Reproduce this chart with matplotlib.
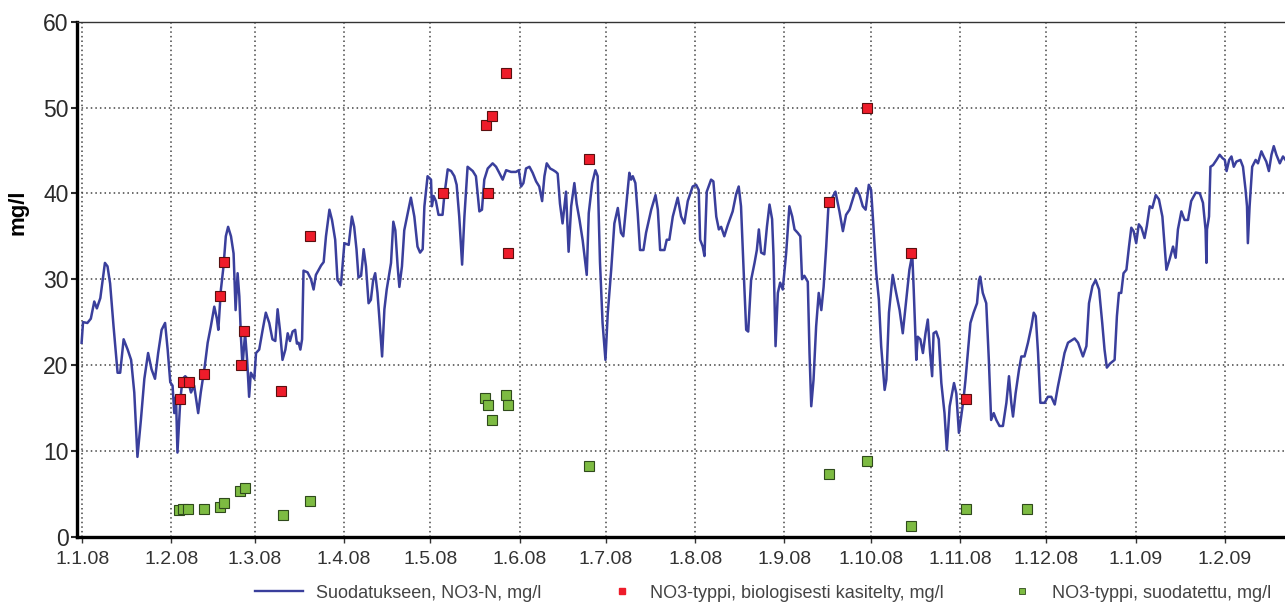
import numpy as np
import matplotlib
matplotlib.use('Agg')
import matplotlib.pyplot as plt
import matplotlib.dates as mdates
from matplotlib.ticker import FuncFormatter, MultipleLocator
from matplotlib.lines import Line2D

# days counted from 1.1.2008
inflow_day = [
    -0.2, 0.3, 1.8, 3.0, 4.2, 5.1, 6.3, 7.9, 8.8, 9.7, 10.9, 12.3, 13.2, 14.4, 15.8, 17.0,
    18.1, 19.2, 20.4, 21.6, 22.9, 24.1, 25.3, 26.4, 27.6, 28.8, 29.7, 30.6, 31.4, 32.0,
    32.6, 33.1, 34.1, 34.9, 35.8, 36.6, 37.8, 38.9, 40.3, 41.2, 42.6, 43.6, 44.7, 45.9,
    46.8, 47.3, 48.2, 49.1, 49.9, 50.7, 51.7, 52.6, 53.3, 54.0, 54.6, 55.2, 55.7, 56.6,
    57.3, 58.0, 58.6, 59.8, 60.4, 61.5, 62.7, 63.8, 65.0, 66.1, 67.1, 67.9, 68.7, 69.6,
    70.6, 71.4, 72.2, 73.1, 74.0, 74.6, 75.2, 75.8, 76.4, 76.9, 78.3, 79.5, 80.4, 81.2,
    83.0, 83.9, 84.7, 85.9, 86.8, 87.9, 88.7, 89.9, 91.1, 92.6, 93.7, 94.5, 95.3, 96.0,
    96.9, 97.8, 98.6, 99.5, 100.3, 101.1, 101.8, 102.6, 103.2, 104.2, 105.0, 105.8, 107.3,
    108.1, 108.8, 109.6, 110.2, 111.1, 111.9, 113.1, 114.2, 115.4, 116.5, 117.4, 118.3,
    118.9, 120.0, 121.2, 121.5, 122.1, 122.9, 123.8, 125.2, 125.8, 127.0, 128.2, 129.3,
    130.1, 131.0, 132.0, 132.8, 133.9, 135.7, 136.8, 138.0, 138.9, 139.7, 140.9, 142.6,
    143.8, 144.9, 146.1, 147.3, 149.0, 150.7, 151.7, 152.5, 153.3, 154.2, 155.4, 156.5,
    157.7, 158.8, 159.8, 160.6, 161.4, 162.6, 163.7, 164.6, 165.2, 166.0, 166.9, 168.1,
    169.0, 169.9, 171.0, 171.8, 172.8, 173.9, 175.3, 176.0, 177.2, 178.3, 179.1, 179.9,
    180.8, 181.8, 182.6, 183.8, 184.9, 186.1, 187.2, 188.0, 189.0, 190.1, 190.7, 191.3,
    192.2, 193.0, 193.8, 195.0, 195.9, 197.7, 199.2, 200.0, 200.8, 202.3, 203.1, 204.0,
    205.2, 206.9, 208.1, 209.2, 210.4, 212.1, 213.3, 214.2, 214.7, 215.6, 216.2, 217.0,
    218.5, 219.3, 220.3, 221.2, 222.0, 223.1, 224.3, 226.0, 227.2, 228.1, 228.9, 229.8,
    230.7, 231.4, 232.4, 233.6, 234.4, 235.1, 235.9, 237.0, 237.9, 238.8, 239.7, 240.2,
    240.9, 241.7, 242.5, 243.4, 244.6, 245.7, 246.7, 247.5, 248.6, 249.5, 250.1, 250.9,
    252.1, 252.7, 253.3, 254.1, 255.0, 255.9, 256.8, 257.6, 258.5, 259.4, 260.6, 261.7,
    263.1, 264.3, 265.4, 266.6, 267.7, 268.9, 270.1, 271.2, 272.2, 273.3, 274.1, 274.9,
    275.9, 276.8, 277.6, 278.8, 279.4, 280.3, 281.6, 282.8, 284.0, 285.1, 286.3, 287.4,
    288.4, 288.9, 289.8, 290.3, 291.2, 292.1, 293.0, 293.8, 294.6, 295.3, 295.8, 296.7,
    297.6, 298.5, 299.6, 300.4, 301.4, 302.9, 303.7, 304.6, 305.4, 306.2, 306.9, 307.7,
    308.6, 309.7, 310.9, 311.6, 312.0, 312.9, 314.1, 315.0, 315.8, 316.7, 317.6, 318.7,
    319.9, 321.1, 322.0, 322.8, 323.4, 324.3, 325.5, 326.3, 327.4, 328.6, 329.8, 330.6,
    331.3, 332.1, 332.9, 334.4, 335.5, 336.7, 337.9, 339.0, 340.2, 341.3, 342.5, 344.8,
    346.0, 347.7, 348.9, 349.8, 351.0, 352.1, 353.3, 354.4, 355.2, 356.0, 357.2, 358.7,
    359.5, 360.2, 361.0, 361.8, 362.8, 363.7, 364.5, 365.3, 366.2, 367.1, 368.0, 369.1,
    369.9, 370.9, 371.8, 373.0, 374.1, 375.3, 376.7, 377.8, 379.0, 379.9, 380.7, 381.9,
    383.0, 384.2, 385.3, 386.9, 388.3, 389.4, 390.3, 390.6, 390.8, 391.5, 392.0, 392.9,
    394.1, 395.2, 396.2, 397.0, 397.6, 398.5, 399.3, 400.1, 401.0, 402.4, 403.3, 404.2,
    404.7, 405.0, 405.6, 406.5, 407.7, 408.5, 409.7, 410.5, 411.4, 412.3, 413.2, 414.0,
    414.9, 416.1, 417.2, 418.5]
inflow_no3 = [
    22.6, 25.0, 24.9, 25.4, 27.4, 26.6, 27.8, 31.9, 31.5, 29.5, 24.5, 19.1, 19.1, 23.0, 21.8, 20.6,
    16.8, 9.3, 13.6, 18.4, 21.4, 19.5, 18.4, 21.4, 24.1, 24.9, 21.8, 18.0, 17.6, 14.4,
    16.3, 9.8, 16.0, 18.4, 18.7, 18.4, 16.8, 17.6, 14.4, 16.8, 19.9, 22.6, 24.5, 26.8,
    25.4, 24.1, 28.8, 31.5, 35.0, 36.1, 35.0, 33.0, 26.4, 30.7, 28.0, 23.0, 19.9, 23.7,
    20.6, 16.3, 19.1, 18.4, 21.4, 21.8, 24.1, 26.1, 24.9, 23.0, 22.8, 26.5, 24.1, 20.6,
    21.8, 23.7, 22.8, 23.9, 24.1, 22.5, 22.6, 21.8, 23.0, 31.0, 30.8, 30.0, 28.8, 30.5,
    31.6, 32.0, 35.0, 38.1, 36.9, 34.6, 29.9, 29.3, 34.2, 34.0, 37.3, 36.1, 33.5, 30.2,
    30.4, 33.5, 31.5, 27.2, 27.6, 29.9, 30.7, 28.4, 25.7, 21.0, 26.5, 28.8, 31.9,
    36.7, 35.7, 31.5, 29.1, 31.5, 35.7, 37.7, 39.5, 37.3, 33.8, 33.1, 33.5,
    38.5, 42.0, 41.6, 38.5, 39.7, 39.1, 37.5, 37.5, 39.7, 42.8, 42.6, 42.0,
    41.0, 37.3, 31.7, 37.3, 43.1, 42.6, 42.0, 37.9, 38.1, 41.6, 42.9, 43.5,
    43.1, 42.4, 41.6, 42.7, 42.5, 42.5, 42.7, 40.8, 41.2, 42.9, 43.1, 42.4,
    41.4, 40.8, 39.1, 42.0, 43.5, 42.9, 42.7, 42.5, 42.3, 38.8, 36.5, 40.2,
    33.2, 38.5, 41.2, 38.8, 36.9, 34.5, 30.5, 37.7, 41.2, 42.7, 42.0, 32.0,
    24.9, 20.6, 26.0, 31.1, 36.5, 38.3, 35.4, 35.0, 38.5, 42.4, 41.6, 42.0,
    41.2, 37.7, 33.4, 33.4, 35.4, 38.1, 39.8, 38.1, 33.4, 33.4, 34.6, 34.6,
    37.3, 39.5, 37.3, 36.5, 39.1, 40.8, 41.0, 40.4, 34.6, 33.8, 32.7, 40.2,
    41.6, 41.4, 37.3, 35.8, 36.1, 35.0, 36.3, 37.9, 39.9, 40.8, 38.5, 31.1,
    24.1, 23.9, 29.9, 31.9, 33.4, 35.8, 33.1, 32.9, 36.1, 38.7, 37.0, 32.7,
    22.2, 28.4, 29.6, 28.8, 33.1, 38.5, 37.3, 35.8, 35.4, 35.0, 30.0, 30.4,
    29.7, 21.4, 15.2, 18.3, 24.5, 28.4, 26.4, 29.1, 33.8, 39.3, 39.5, 40.2,
    37.9, 35.6, 37.5, 38.1, 39.3, 40.6, 39.8, 38.5, 38.1, 41.0, 40.4, 36.2,
    30.7, 27.6, 22.2, 17.1, 18.3, 26.1, 30.5, 28.4, 26.4, 23.7, 27.6, 31.1,
    32.9, 28.8, 20.6, 23.3, 23.0, 21.4, 23.7, 25.3, 21.4, 18.7, 23.7, 23.9,
    23.0, 17.9, 14.4, 10.1, 15.2, 17.9, 16.7, 12.1, 14.0, 16.0, 18.3, 21.4,
    24.9, 26.1, 27.2, 29.9, 30.3, 28.4, 27.2, 20.6, 13.6, 14.4, 13.6, 12.9,
    12.9, 15.6, 18.7, 15.6, 14.0, 16.7, 19.5, 21.0, 21.0, 22.6, 24.5, 26.1,
    25.7, 21.4, 15.6, 15.6, 16.3, 16.3, 15.4, 17.5, 19.5, 21.4, 22.6, 23.1,
    22.6, 21.0, 22.2, 27.2, 29.2, 29.9, 28.8, 24.9, 21.8, 19.7, 20.2, 20.6,
    25.7, 28.4, 28.4, 30.7, 31.1, 33.8, 36.0, 35.6, 34.2, 36.4, 36.0, 34.8,
    36.2, 38.5, 38.3, 39.8, 39.3, 37.3, 31.1, 32.3, 33.8, 32.5, 35.8, 37.9,
    36.9, 36.9, 39.1, 40.1, 40.0, 38.9, 35.8, 31.9, 35.8, 37.3, 43.1, 43.3,
    43.9, 44.5, 44.1, 43.9, 42.6, 43.9, 44.3, 43.1, 43.7, 43.9, 43.1, 40.4,
    38.5, 34.2, 38.5, 43.1, 43.9, 43.5, 44.9, 44.3, 43.7, 42.6, 44.5, 45.5,
    44.5, 43.5, 44.3, 43.7]

bio_day = [34.1, 34.9, 37.2, 42.4, 47.9, 49.4, 55.2, 56.3, 69.0, 79.1, 125.2,
           140.3, 141.1, 142.4, 147.3, 148.1, 176.2, 259.3, 272.6, 288.0, 306.9]
bio_no3 = [16, 18, 18, 19, 28, 32, 20, 24, 17, 35, 40,
           48, 40, 49, 54, 33, 44, 39, 50, 33, 16]

filt_day = [33.7, 34.9, 36.9, 42.3, 48.0, 49.4, 54.9, 56.5, 69.9, 79.2,
            140.1, 141.1, 142.4, 147.3, 148.0, 176.0, 259.3, 272.6, 288.0, 306.9, 328.2]
filt_no3 = [3.1, 3.2, 3.2, 3.2, 3.5, 3.9, 5.3, 5.7, 2.5, 4.2,
            16.2, 15.4, 13.6, 16.5, 15.4, 8.2, 7.3, 8.8, 1.3, 3.2, 3.2]

labels = ['Suodatukseen, NO3-N, mg/l',
          'NO3-typpi, biologisesti kasitelty, mg/l',
          'NO3-typpi, suodatettu, mg/l']

t0 = mdates.date2num(np.datetime64('2008-01-01'))
months = np.arange(np.datetime64('2008-01'), np.datetime64('2009-03'))
month_ticks = mdates.date2num(months.astype('datetime64[D]'))

plt.rcParams['font.family'] = ['Liberation Sans', 'DejaVu Sans']

fig = plt.figure(figsize=(12.85, 6.05), dpi=100)
ax = fig.add_axes([0.0597, 0.1129, 0.9403, 0.8512])

blue = '#3a3f9c'
red = '#ee1c2a'
green = '#7dbb42'
ax.plot(t0 + np.array(inflow_day), inflow_no3, color=blue, lw=1.8, zorder=3)
ax.plot(t0 + np.array(bio_day), bio_no3, ls='none', marker='s', ms=7.5,
        mfc=red, mec='#5a1010', mew=0.8, zorder=4)
ax.plot(t0 + np.array(filt_day), filt_no3, ls='none', marker='s', ms=7.5,
        mfc=green, mec='#2f4a1c', mew=0.8, zorder=4)

ax.set_xlim(t0 - 1.9, t0 + 417.9)
ax.set_ylim(0, 60)
ax.set_xticks(month_ticks)
ax.xaxis.set_major_formatter(FuncFormatter(
    lambda x, p: '%d.%d.%02d' % (mdates.num2date(x).day, mdates.num2date(x).month,
                                 mdates.num2date(x).year % 100)))
ax.yaxis.set_major_locator(MultipleLocator(10))

ax.grid(True, ls=(0, (1, 2)), color='#444444', lw=1.1)
for s in ['left', 'bottom']:
    ax.spines[s].set_linewidth(2.4)
ax.spines['top'].set_linewidth(1.0)
ax.spines['top'].set_color('#333333')
ax.spines['right'].set_visible(False)

ax.tick_params(axis='y', labelsize=16.5, length=4, width=1.5, colors='#2a2a2a', pad=2)
ax.tick_params(axis='x', labelsize=14, length=4, width=1, colors='#333333', pad=6)

ax.set_ylabel('mg/l', fontsize=16, fontweight='bold')
ax.yaxis.set_label_coords(-0.04, 0.63)

# legend entries placed one by one along the bottom
leg_y = 1 - 593 / 605
entries = [
    (Line2D([], [], color=blue, lw=1.7), labels[0], 255, 2.66, 0.72),
    (Line2D([], [], ls='none', marker='s', ms=5, mfc=red, mec=red), labels[1], 615, 0.8, 1.16),
    (Line2D([], [], ls='none', marker='s', ms=5, mfc=green, mec='#2f4a1c', mew=0.6),
     labels[2], 1015, 0.8, 1.27),
]
for h, lab, px, hl, pad in entries:
    lg = fig.legend([h], [lab], loc='center left', bbox_to_anchor=(px / 1285, leg_y),
                    frameon=False, borderpad=0, borderaxespad=0, handlelength=hl,
                    handletextpad=pad, prop={'size': 13}, labelcolor='#444444')

fig.savefig('out.png', dpi=100)
